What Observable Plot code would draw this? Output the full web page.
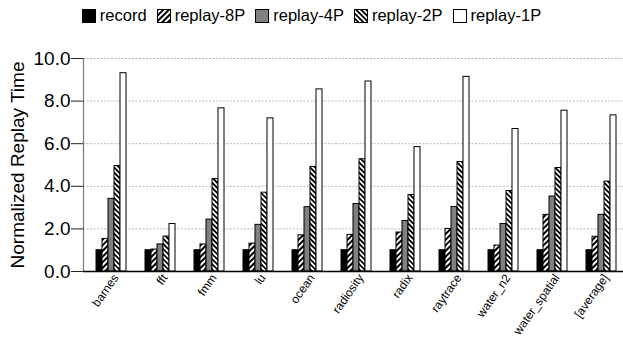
<!DOCTYPE html>
<html>
<head>
<meta charset="utf-8">
<script src="https://cdn.jsdelivr.net/npm/d3@7"></script>
<script src="https://cdn.jsdelivr.net/npm/@observablehq/plot@0.6"></script>
<style>
  html, body { margin: 0; padding: 0; background: #fff; }
  body { width: 623px; height: 341px; overflow: hidden; font-family: "Liberation Sans", Arial, sans-serif; }
  #legend { height: 30px; display: flex; justify-content: center; align-items: center; font-size: 16.5px; color: #000; padding-top: 1px; box-sizing: border-box; }
  .item { display: flex; align-items: center; margin: 0 5px; }
  .item svg { margin-right: 4px; }
  #chart { position: relative; width: 623px; height: 311px; }
  #chart svg { position: absolute; left: 0; top: 0; }
</style>
</head>
<body>
<svg width="0" height="0" style="position:absolute">
  <defs>
    <pattern id="hatch8" patternUnits="userSpaceOnUse" width="4" height="4" patternTransform="rotate(45)">
      <rect width="4" height="4" fill="#fff"></rect>
      <rect width="2" height="4" fill="#000"></rect>
    </pattern>
    <pattern id="hatch2" patternUnits="userSpaceOnUse" width="3.6" height="3.6" patternTransform="rotate(-45)">
      <rect width="3.6" height="3.6" fill="#fff"></rect>
      <rect width="1.8" height="3.6" fill="#000"></rect>
    </pattern>
  </defs>
</svg>
<div id="legend"></div>
<div id="chart"></div>
<script>
const benchmarks = ["barnes","fft","fmm","lu","ocean","radiosity","radix","raytrace","water_n2","water_spatial","[average]"];
const series = ["record","replay-8P","replay-4P","replay-2P","replay-1P"];
const record   = [1.00,1.00,1.00,1.00,1.00,1.00,1.00,1.00,1.00,1.00,1.00];
const replay8P = [1.53,1.03,1.27,1.31,1.70,1.72,1.83,2.00,1.22,2.66,1.63];
const replay4P = [3.41,1.27,2.44,2.19,3.02,3.17,2.37,3.03,2.23,3.52,2.66];
const replay2P = [4.95,1.64,4.34,3.70,4.91,5.27,3.59,5.14,3.78,4.86,4.22];
const replay1P = [9.31,2.23,7.66,7.19,8.55,8.92,5.84,9.14,6.69,7.55,7.33];
const yTicks = [0,2,4,6,8,10];
const yLabel = "Normalized Replay Time";
const fills = ["#000000","url(#hatch8)","#808080","url(#hatch2)","#ffffff"];

const seriesValues = [record, replay8P, replay4P, replay2P, replay1P];
const rows = [];
benchmarks.forEach((b, i) => {
  series.forEach((s, j) => rows.push({benchmark: b, series: s, value: seriesValues[j][i]}));
});

// legend
const legendEl = document.getElementById("legend");
series.forEach((s, j) => {
  const it = document.createElement("div");
  it.className = "item";
  it.innerHTML = `<svg width="14" height="14"><rect x="0.5" y="0.5" width="13" height="13" fill="${fills[j]}" stroke="#000" stroke-width="1"></rect></svg><span>${s}</span>`;
  legendEl.appendChild(it);
});

const common = {
  width: 623,
  height: 311,
  marginLeft: 83,
  marginRight: 0,
  marginTop: 28,
  marginBottom: 70,
  style: {fontFamily: "'Liberation Sans', Arial, sans-serif", color: "#000", background: "transparent"}
};

// background layer: grid, y axis
const backLayer = Plot.plot({
  ...common,
  x: {domain: [0, 1], axis: null},
  y: {domain: [0, 10], axis: null},
  marks: [
    Plot.ruleY(yTicks.slice(1), {stroke: "#b5b5b5", strokeDasharray: "2,1.5", strokeWidth: 1}),
    Plot.ruleX([0], {stroke: "#777", strokeWidth: 1.2}),
    Plot.axisY(yTicks, {anchor: "left", tickSize: 12, tickPadding: 1, fontSize: 19, tickFormat: d => d.toFixed(1), label: null, stroke: "#222"}),
    Plot.text([yLabel], {frameAnchor: "left", textAnchor: "middle", rotate: -90, dx: -66, fontSize: 19})
  ]
});

// foreground layer: grouped bars
const barLayer = Plot.plot({
  ...common,
  fx: {domain: benchmarks, paddingInner: 0.324, paddingOuter: 0.135, align: 0.65, axis: null, label: null},
  x: {domain: series, padding: 0, axis: null},
  y: {domain: [0, 10], axis: null},
  color: {domain: series, range: fills},
  marks: [
    Plot.barY(rows, {fx: "benchmark", x: "series", y: "value", fill: "series", stroke: "#000", strokeWidth: 1}),
    Plot.axisFx({anchor: "bottom", tickSize: 0, tickPadding: 4, tickRotate: -55, fontSize: 12, dx: 5, label: null})
  ]
});

// baseline on top
const baseLayer = Plot.plot({
  ...common,
  x: {domain: [0, 1], axis: null},
  y: {domain: [0, 10], axis: null},
  marks: [Plot.ruleY([0], {stroke: "#000", strokeWidth: 1.5})]
});

const c = document.getElementById("chart");
c.appendChild(backLayer);
c.appendChild(barLayer);
c.appendChild(baseLayer);
</script>
</body>
</html>
